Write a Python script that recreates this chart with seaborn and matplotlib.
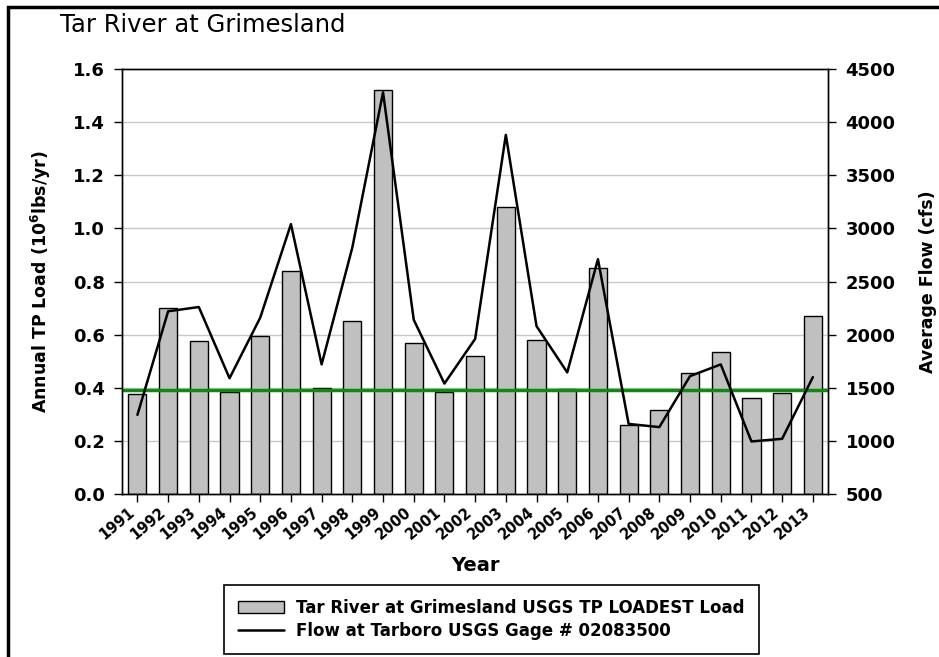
import numpy as np
import pandas as pd
import seaborn as sns
import matplotlib.pyplot as plt
import matplotlib.transforms as mtransforms
from matplotlib.patches import Patch, Rectangle
from matplotlib.lines import Line2D

# data
years = [str(y) for y in range(1991, 2014)]
tp_load = [0.375, 0.70, 0.575, 0.385, 0.595, 0.84, 0.40, 0.65, 1.52, 0.57, 0.385, 0.52,
           1.08, 0.58, 0.395, 0.85, 0.26, 0.315, 0.455, 0.535, 0.36, 0.38, 0.67]
flow = [1245, 2220, 2260, 1590, 2160, 3040, 1720, 2820, 4280, 2140, 1540, 1960,
        3880, 2080, 1645, 2710, 1160, 1130, 1610, 1720, 995, 1020, 1600]
target_load = 0.39

load_ticks = [0.0, 0.2, 0.4, 0.6, 0.8, 1.0, 1.2, 1.4, 1.6]
flow_ticks = [500, 1000, 1500, 2000, 2500, 3000, 3500, 4000, 4500]

df = pd.DataFrame({'year': years, 'load': tp_load, 'flow': flow})
df['pos'] = np.arange(len(df))

sns.set_style('white')
plt.rcParams['font.family'] = ['DejaVu Sans']
plt.rcParams['text.color'] = 'black'
plt.rcParams['axes.labelcolor'] = 'black'
plt.rcParams['xtick.color'] = 'black'
plt.rcParams['ytick.color'] = 'black'

fig = plt.figure(figsize=(9.39, 6.57), dpi=100)
ax = fig.add_axes([0.130, 0.248, 0.752, 0.647])

# grid behind bars
for t in load_ticks[1:-1]:
    ax.axhline(t, color='#c8c8c8', lw=1, zorder=0)

sns.barplot(data=df, x='year', y='load', color='#c0c0c0', edgecolor='black',
            linewidth=1, width=0.59, saturation=1, ax=ax, zorder=2)

ax.axhline(target_load, color='#118811', lw=2.5, zorder=5)

ax.set_xlim(-0.5, len(years) - 0.5)
ax.set_ylim(0, 1.6)
ax.set_yticks(load_ticks)
ax.set_yticklabels([f'{t:.1f}' for t in load_ticks], fontsize=13, fontweight='bold')
ax.set_xticks(range(len(years)))
ax.set_xticklabels(years, rotation=40, ha='right', fontsize=10.5, fontweight='bold')
shift = mtransforms.ScaledTranslation(6 / 100, -3 / 100, fig.dpi_scale_trans)
for lab in ax.get_xticklabels():
    lab.set_transform(lab.get_transform() + shift)
ax.tick_params(axis='both', direction='out', length=5.5, width=1, color='black',
               left=True, bottom=True)
ax.tick_params(axis='y', pad=7)
ax.tick_params(axis='x', pad=2)
ax.set_xlabel('Year', fontsize=14, fontweight='bold', labelpad=10)
ax.set_ylabel('Annual TP Load (10$^{\\mathbf{6}}$lbs/yr)', fontsize=12.5,
              fontweight='bold', labelpad=14)

ax2 = ax.twinx()
sns.lineplot(data=df, x='pos', y='flow', color='black', lw=1.8, ax=ax2, zorder=6)
ax2.set_ylim(500, 4500)
ax2.set_yticks(flow_ticks)
ax2.set_yticklabels([str(t) for t in flow_ticks], fontsize=13, fontweight='bold')
ax2.tick_params(axis='y', direction='out', length=5.5, width=1, color='black',
                right=True, pad=7)
ax2.set_ylabel('Average Flow (cfs)', fontsize=12.5, fontweight='bold', labelpad=17)
ax2.set_xlabel('')

for a in (ax, ax2):
    for s in a.spines.values():
        s.set_color('black')
        s.set_linewidth(1)

fig.text(0.064, 0.962, 'Tar River at Grimesland', fontsize=17.5, va='center', ha='left')

handles = [Patch(facecolor='#c0c0c0', edgecolor='black', linewidth=1),
           Line2D([0], [0], color='black', lw=1.8)]
labels = ['Tar River at Grimesland USGS TP LOADEST Load',
          'Flow at Tarboro USGS Gage # 02083500']
leg = fig.legend(handles, labels, loc='center', bbox_to_anchor=(0.523, 0.057),
                 frameon=True, fancybox=False, edgecolor='black', framealpha=1,
                 prop={'weight': 'bold', 'size': 12}, handlelength=2.8,
                 handletextpad=0.7, borderpad=0.85, labelspacing=0.3,
                 borderaxespad=0)
leg.get_frame().set_linewidth(1.2)

# outer border of the figure, runs off the right and bottom edges
fig.patches.append(Rectangle((0.0085, -0.05), 1.1, 1.04, transform=fig.transFigure,
                             fill=False, edgecolor='black', lw=2.5, clip_on=False))

fig.savefig('out.png', dpi=100)
